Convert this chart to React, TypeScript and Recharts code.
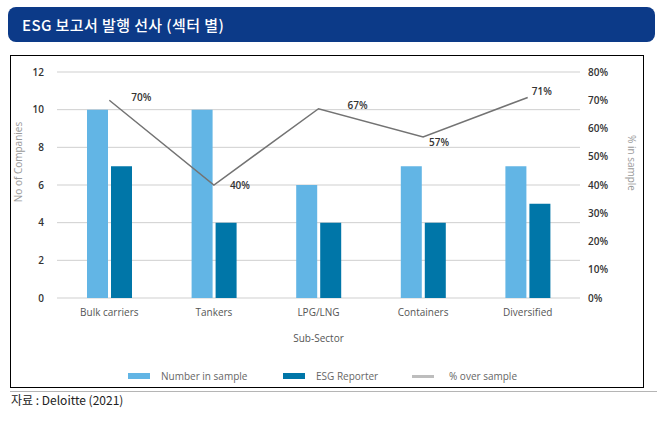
import React from 'react';
import {
  ComposedChart,
  Bar,
  Line,
  XAxis,
  YAxis,
  CartesianGrid,
  LabelList,
  Label,
} from 'recharts';

const categories = ['Bulk carriers', 'Tankers', 'LPG/LNG', 'Containers', 'Diversified'];
const numberInSample = [10, 10, 6, 7, 7];
const esgReporter = [7, 4, 4, 4, 5];
const pctOverSample = [0.7, 0.4, 0.67, 0.57, 0.71];
const leftTicks = [0, 2, 4, 6, 8, 10, 12];
const rightTicks = [0, 0.1, 0.2, 0.3, 0.4, 0.5, 0.6, 0.7, 0.8];

const data = categories.map((c, i) => ({
  name: c,
  sample: numberInSample[i],
  reporter: esgReporter[i],
  pct: pctOverSample[i],
}));

const LIGHT = '#62b5e5';
const DARK = '#0076a8';
const LINE = '#737373';
const FONT = '"Open Sans", "Noto Sans", sans-serif';

// label nudges (style only)
const LABEL_DX = [22, 16, 29, 6, 4];
const LABEL_DY = [-3, 0, -3, 6, -6];

const PctLabel = (props: any) => {
  const { x, y, value, index } = props;
  return (
    <text
      x={x + LABEL_DX[index]}
      y={y + LABEL_DY[index]}
      dy="0.35em"
      textAnchor="start"
      fontSize={10}
      fontWeight={600}
      fill="#333"
      fontFamily={FONT}
    >
      {Math.round(value * 100)}%
    </text>
  );
};

const LeftTitle = (props: any) => {
  const cx = 18;
  const cy = 162;
  return (
    <text
      x={cx}
      y={cy}
      transform={`rotate(-90, ${cx}, ${cy})`}
      textAnchor="middle"
      dominantBaseline="central"
      fontSize={10}
      fill="#9a9a9a"
      fontFamily={FONT}
    >
      No of Companies
    </text>
  );
};

const RightTitle = (props: any) => {
  const cx = 632;
  const cy = 163;
  return (
    <text
      x={cx}
      y={cy}
      transform={`rotate(90, ${cx}, ${cy})`}
      textAnchor="middle"
      dominantBaseline="central"
      fontSize={10}
      fill="#9a9a9a"
      fontFamily={FONT}
    >
      % in sample
    </text>
  );
};

export default function App() {
  return (
    <div
      style={{
        position: 'absolute',
        left: 0,
        top: 0,
        width: 657,
        height: 421,
        background: '#fff',
        fontFamily: FONT,
        overflow: 'hidden',
      }}
    >
      {/* Title bar */}
      <div
        style={{
          position: 'absolute',
          left: 8,
          top: 7,
          width: 647,
          height: 35,
          background: '#0c3a88',
          borderRadius: 8,
          color: '#fff',
          fontFamily: '"Noto Sans CJK KR", sans-serif',
          fontSize: 15,
          fontWeight: 500,
          lineHeight: '35px',
          paddingLeft: 14,
          letterSpacing: 0.4,
          boxSizing: 'border-box',
        }}
      >
        ESG 보고서 발행 선사 (섹터 별)
      </div>

      {/* Chart box */}
      <div
        style={{
          position: 'absolute',
          left: 10,
          top: 55,
          width: 634,
          height: 333,
          border: '1px solid #000',
          boxSizing: 'border-box',
        }}
      />

      <div style={{ position: 'absolute', left: 0, top: 0 }}>
        <ComposedChart
          width={657}
          height={421}
          data={data}
          margin={{ top: 72, right: 0, bottom: 93, left: 0 }}
          barSize={21}
          barGap={3}
        >
          <CartesianGrid vertical={false} stroke="#cfcfcf" yAxisId="left" />
          <XAxis
            dataKey="name"
            axisLine={false}
            tickLine={false}
            tickMargin={5}
            height={30}
            tick={{ fontSize: 10, fill: '#555', fontFamily: FONT }}
          >
            <Label
              value="Sub-Sector"
              position="bottom"
              offset={7}
              style={{ fontSize: 10, fill: '#555', fontFamily: FONT }}
            />
          </XAxis>
          <YAxis
            yAxisId="left"
            orientation="left"
            width={57}
            domain={[0, 12]}
            ticks={leftTicks}
            interval={0}
            axisLine={false}
            tickLine={false}
            tickSize={6}
            tickMargin={7}
            tick={{ fontSize: 10, fill: '#333', fontWeight: 600, fontFamily: FONT }}
          >
            <Label content={<LeftTitle />} />
          </YAxis>
          <YAxis
            yAxisId="right"
            orientation="right"
            width={77}
            domain={[0, 0.8]}
            ticks={rightTicks}
            interval={0}
            axisLine={false}
            tickLine={false}
            tickSize={6}
            tickMargin={2}
            tickFormatter={(v: number) => `${Math.round(v * 100)}%`}
            tick={{ fontSize: 10, fill: '#333', fontWeight: 600, fontFamily: FONT, textAnchor: 'start' }}
          >
            <Label content={<RightTitle />} />
          </YAxis>
          <Bar yAxisId="left" dataKey="sample" fill={LIGHT} isAnimationActive={false} />
          <Bar yAxisId="left" dataKey="reporter" fill={DARK} isAnimationActive={false} />
          <Line
            yAxisId="right"
            dataKey="pct"
            type="linear"
            stroke={LINE}
            strokeWidth={1.5}
            dot={false}
            activeDot={false}
            isAnimationActive={false}
          >
            <LabelList dataKey="pct" content={<PctLabel />} />
          </Line>
        </ComposedChart>
      </div>

      {/* Legend */}
      <div style={{ position: 'absolute', left: 128, top: 373, width: 22, height: 6, background: LIGHT }} />
      <div style={{ position: 'absolute', left: 161, top: 369, fontSize: 10, color: '#666', lineHeight: '14px' }}>
        Number in sample
      </div>
      <div style={{ position: 'absolute', left: 283, top: 373, width: 22, height: 6, background: DARK }} />
      <div style={{ position: 'absolute', left: 316, top: 369, fontSize: 10, color: '#666', lineHeight: '14px' }}>
        ESG Reporter
      </div>
      <div style={{ position: 'absolute', left: 412, top: 375, width: 22, height: 3, background: '#bdbdbd' }} />
      <div style={{ position: 'absolute', left: 449, top: 369, fontSize: 10, color: '#666', lineHeight: '14px' }}>
        % over sample
      </div>

      {/* Bottom rule and source */}
      <div style={{ position: 'absolute', left: 10, top: 391, width: 647, height: 1, background: '#b5b5b5' }} />
      <div
        style={{
          position: 'absolute',
          left: 11,
          top: 392,
          fontSize: 12,
          fontWeight: 400,
          color: '#222',
          fontFamily: '"Noto Sans CJK KR", sans-serif',
          lineHeight: '16px',
        }}
      >
        자료 : Deloitte (2021)
      </div>
    </div>
  );
}
